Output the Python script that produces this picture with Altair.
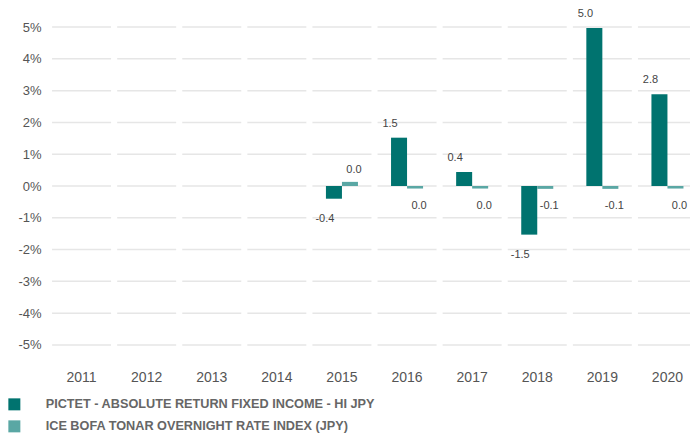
import altair as alt
import pandas as pd

YEARS = ["2011", "2012", "2013", "2014", "2015", "2016", "2017", "2018", "2019", "2020"]
Y_TICKS = [-5, -4, -3, -2, -1, 0, 1, 2, 3, 4, 5]
SERIES = ["PICTET - ABSOLUTE RETURN FIXED INCOME - HI JPY",
          "ICE BOFA TONAR OVERNIGHT RATE INDEX (JPY)"]
COLORS = ["#00736f", "#5aa7a4"]

PICTET = [None, None, None, None, -0.40, 1.52, 0.44, -1.53, 4.97, 2.89]
PICTET_LABELS = [None, None, None, None, "-0.4", "1.5", "0.4", "-1.5", "5.0", "2.8"]
INDEX = [None, None, None, None, 0.13, -0.08, -0.08, -0.09, -0.09, -0.08]
INDEX_LABELS = [None, None, None, None, "0.0", "0.0", "0.0", "-0.1", "-0.1", "0.0"]

rows = []
for i, yr in enumerate(YEARS):
    for s, vals, labs in ((SERIES[0], PICTET, PICTET_LABELS), (SERIES[1], INDEX, INDEX_LABELS)):
        if vals[i] is not None:
            rows.append({"year": yr, "series": s, "value": vals[i], "label": labs[i]})
df = pd.DataFrame(rows)
grid_df = pd.DataFrame([{"year": yr, "v": t} for yr in YEARS for t in Y_TICKS])

FONT = "Liberation Sans"
xscale = alt.Scale(domain=YEARS, paddingInner=0.508, paddingOuter=0.254, range=[0, 651])
yscale = alt.Scale(domain=[-5.6, 5.6], nice=False, zero=False)
off = alt.XOffset("series:N", scale=alt.Scale(domain=SERIES))

x_axis = alt.Axis(title=None, labelAngle=0, ticks=False, domain=False, grid=False,
                  labelPadding=6, labelFontSize=14, labelColor="#555", labelFont=FONT)
y_axis = alt.Axis(title=None, values=Y_TICKS, ticks=False, domain=False, grid=False,
                  labelExpr="datum.value + '%'", labelPadding=8, labelFontSize=13,
                  labelColor="#555", labelFont=FONT)
X = alt.X("year:N", scale=xscale, sort=YEARS, axis=x_axis)

grid = alt.Chart(grid_df).mark_tick(orient="horizontal", size=59, thickness=1.5, color="#dcdcdc").encode(
    x=X,
    y=alt.Y("v:Q", scale=yscale, axis=y_axis),
)

bars = alt.Chart(df).mark_bar().encode(
    x=X,
    xOffset=off,
    y=alt.Y("value:Q", scale=yscale, axis=y_axis),
    color=alt.Color("series:N", scale=alt.Scale(domain=SERIES, range=COLORS),
                    legend=alt.Legend(orient="none", legendX=-41, legendY=390, direction="vertical",
                                      title=None, symbolType="square", symbolSize=144,
                                      symbolStrokeWidth=0, symbolOpacity=1, labelLimit=500,
                                      labelFont=FONT, labelFontSize=12.7, labelFontWeight="bold",
                                      labelColor="#666", labelOffset=25, rowPadding=8)),
)


def labels(series, positive, dx, dy):
    cond = f"datum.series == '{series}' && datum.value {'>=' if positive else '<'} 0"
    return alt.Chart(df).transform_filter(cond).mark_text(
        dx=dx, dy=dy, fontSize=11, font=FONT, color="#444", baseline="middle", align="center"
    ).encode(
        x=X,
        xOffset=off,
        y=alt.Y("value:Q", scale=yscale, axis=y_axis),
        text="label:N",
    )


chart = alt.layer(
    grid, bars,
    labels(SERIES[0], True, -9, -14), labels(SERIES[0], False, -9, 20),
    labels(SERIES[1], True, 4, -12), labels(SERIES[1], False, 4, 17),
).properties(
    width=641, height=356,
    autosize=alt.AutoSizeParams(type="none"),
    padding={"left": 41, "top": 0, "right": 0, "bottom": 69},
).configure_view(stroke=None)

chart.save("out.html", embed_options={"renderer": "svg", "actions": False})
